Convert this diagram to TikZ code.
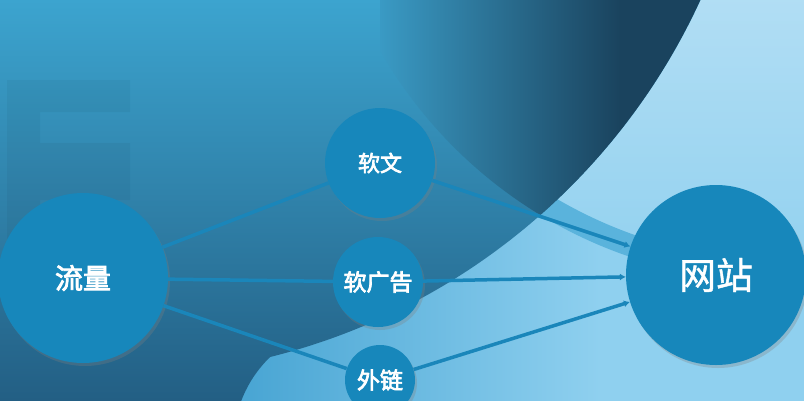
\documentclass[tikz,border=0pt]{standalone}
\usepackage{fontspec}
\usepackage{tikz}
\usetikzlibrary{arrows}
\usetikzlibrary{arrows.meta}
\usetikzlibrary{shadows}
\newfontfamily\cjk[FakeBold=1.2]{Noto Sans CJK SC}
\newfontfamily\cjkbold[FakeBold=3]{Noto Sans CJK SC}

\definecolor{ballblue}{HTML}{1787BB}
\definecolor{lineblue}{HTML}{1A86BA}
\definecolor{skylight}{HTML}{8FD0EF}
\definecolor{skypale}{HTML}{B2DEF4}
\definecolor{skydeep}{HTML}{4AA6D4}
\definecolor{midtop}{HTML}{3CA4CF}
\definecolor{midbottom}{HTML}{235F84}
\definecolor{lensleft}{HTML}{3A9AC4}
\definecolor{lensright}{HTML}{1A435E}
\definecolor{bandblue}{HTML}{5AB3DC}

\tikzset{
  ball/.style={circle, fill=ballblue, text=white, inner sep=0pt,
    drop shadow={opacity=0.3, shadow xshift=2pt, shadow yshift=-3pt}},
  link/.style={draw=lineblue, line width=3.5pt},
}

\begin{document}
\begin{tikzpicture}[x=1pt, y=-1pt, >={Latex[length=6pt,width=7pt]}]
\useasboundingbox (0,0) rectangle (804,400);
\clip (0,0) rectangle (804,400);

% background
\fill[skydeep] (-10,-10) rectangle (260,410);
\fill[skylight] (590,-10) rectangle (814,410);
\shade[left color=skydeep, right color=skylight] (250,-10) rectangle (600,410);
\begin{scope}
\clip (777,-176) circle (457);
\shade[top color=skypale, bottom color=skylight] (300,-10) rectangle (814,300);
\end{scope}
\fill[bandblue, even odd rule] (777,-176) circle (457) (787,-196) circle (457);
\begin{scope}
\clip (114,-269) circle (645);
\shade[top color=midtop, bottom color=midbottom] (-10,0) rectangle (814,400);
\end{scope}
\begin{scope}
\clip (-10,330) -- (280,330) -- (270,357) .. controls (255,372) and (245,388) .. (238,410) -- (-10,410) -- cycle;
\shade[top color=midtop, bottom color=midbottom] (-10,0) rectangle (814,400);
\end{scope}
\begin{scope}
\clip (777,-176) circle (457);
\clip (114,-269) circle (645);
\shade[left color=lensleft, right color=lensright] (380,-10) rectangle (620,230);
\fill[lensright] (620,-10) rectangle (720,230);
\end{scope}
\fill[black, opacity=0.04] (7,80) -- (130,80) -- (130,112) -- (40,112) -- (40,143) -- (130,143) -- (130,200) -- (40,200) -- (40,300) -- (7,300) -- cycle;

% circles
\node[ball, minimum size=170pt] (liuliang) at (83,278) {\cjkbold\fontsize{28}{34}\selectfont 流量};
\node[ball, minimum size=110pt] (ruanwen) at (380,163) {\cjkbold\fontsize{22}{26}\selectfont 软文};
\node[ball, minimum size=90pt] (ruanguanggao) at (378,282) {\cjkbold\fontsize{23}{27}\selectfont 软广告};
\node[ball, minimum size=70pt] (wailian) at (380,380) {\cjkbold\fontsize{23}{27}\selectfont 外链};
\node[ball, minimum size=180pt] (wangzhan) at (716,275) {\cjk\fontsize{37}{44}\selectfont 网站};

\draw[link] (liuliang) -- (ruanwen);
\draw[link] (liuliang) -- (ruanguanggao);
\draw[link] (liuliang) -- (wailian);
\draw[link, ->] (ruanwen) -- (wangzhan);
\draw[link, ->] (ruanguanggao) -- (wangzhan);
\draw[link, ->] (wailian) -- (wangzhan);

\end{tikzpicture}
\end{document}
